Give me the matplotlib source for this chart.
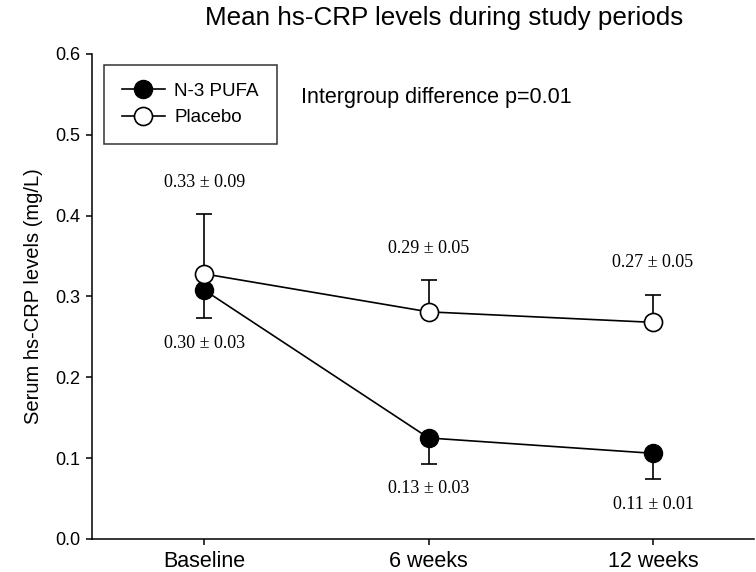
#!/usr/bin/env python3
"""Mean hs-CRP levels during study periods."""
import matplotlib
matplotlib.use("Agg")
import matplotlib.pyplot as plt
from matplotlib.lines import Line2D

# ── data ──────────────────────────────────────────────────────────────
periods      = ["Baseline", "6 weeks", "12 weeks"]
pufa_mean    = [0.308, 0.125, 0.106]
pufa_err_lo  = [0.035, 0.032, 0.032]
placebo_mean = [0.328, 0.281, 0.268]
placebo_err_hi = [0.074, 0.039, 0.034]

pufa_labels    = ["0.30 \u00b1 0.03", "0.13 \u00b1 0.03", "0.11 \u00b1 0.01"]
placebo_labels = ["0.33 \u00b1 0.09", "0.29 \u00b1 0.05", "0.27 \u00b1 0.05"]

SANS  = ["Liberation Sans", "DejaVu Sans"]
SERIF = ["Liberation Serif", "DejaVu Serif"]


def main() -> None:
    plt.rcParams["font.family"] = SANS
    fig = plt.figure(figsize=(7.56, 5.72), dpi=100)
    ax = fig.add_axes([0.1217, 0.0577, 0.8757, 0.8479])

    x = list(range(1, len(periods) + 1))
    zeros = [0.0] * len(x)

    ax.errorbar(x, pufa_mean, yerr=[pufa_err_lo, zeros], color="black",
                lw=1.2, marker="o", ms=13, mfc="black", mec="black",
                capsize=5.8, capthick=1.2, elinewidth=1.2, zorder=3)
    ax.errorbar(x, placebo_mean, yerr=[zeros, placebo_err_hi], color="black",
                lw=1.2, marker="o", ms=13, mfc="white", mec="black", mew=1.2,
                capsize=5.8, capthick=1.2, elinewidth=1.2, zorder=4)

    # value annotations (offsets in points)
    for xi, m, e, s in zip(x, pufa_mean, pufa_err_lo, pufa_labels):
        ax.annotate(s, (xi, m - e), xytext=(0, -18), textcoords="offset points",
                    ha="center", va="center", fontsize=13, family=SERIF)
    for xi, m, e, s in zip(x, placebo_mean, placebo_err_hi, placebo_labels):
        ax.annotate(s, (xi, m + e), xytext=(0, 23), textcoords="offset points",
                    ha="center", va="center", fontsize=13, family=SERIF)

    ax.text(301, 475, "Intergroup difference p=0.01", transform=None,
            fontsize=15.5, ha="left", va="center")

    ax.set_xlim(0.5, 3.45)
    ax.set_ylim(0.0, 0.6)
    ax.set_xticks(x)
    ax.set_xticklabels(periods, fontsize=15.5)
    ax.set_yticks([0.0, 0.1, 0.2, 0.3, 0.4, 0.5, 0.6])
    ax.set_yticklabels([f"{v:.1f}" for v in ax.get_yticks()], fontsize=13)
    ax.tick_params(direction="out", length=4.3, width=1.1, pad=4)
    ax.set_ylabel("Serum hs-CRP levels (mg/L)", fontsize=14.5, labelpad=9)
    ax.spines["top"].set_visible(False)
    ax.spines["right"].set_visible(False)
    for sp in ("left", "bottom"):
        ax.spines[sp].set_linewidth(1.1)

    fig.text(0.587, 1 - 18 / 572, "Mean hs-CRP levels during study periods",
             ha="center", va="center", fontsize=18.7)

    handles = [
        Line2D([], [], color="black", lw=1.2, marker="o", ms=13,
               mfc="black", mec="black"),
        Line2D([], [], color="black", lw=1.2, marker="o", ms=13,
               mfc="white", mec="black", mew=1.2),
    ]
    leg = ax.legend(handles, ["N-3 PUFA", "Placebo"], loc="upper left",
                    bbox_to_anchor=(12 / 662, 1 - 11 / 485),
                    frameon=True, fancybox=False, edgecolor="black",
                    fontsize=13.5, handlelength=2.3, handletextpad=0.5,
                    borderpad=0.95, labelspacing=0.5, borderaxespad=0.0)
    leg.get_frame().set_linewidth(1.1)

    fig.savefig("out.png", dpi=100)
    plt.close(fig)


if __name__ == "__main__":
    main()
